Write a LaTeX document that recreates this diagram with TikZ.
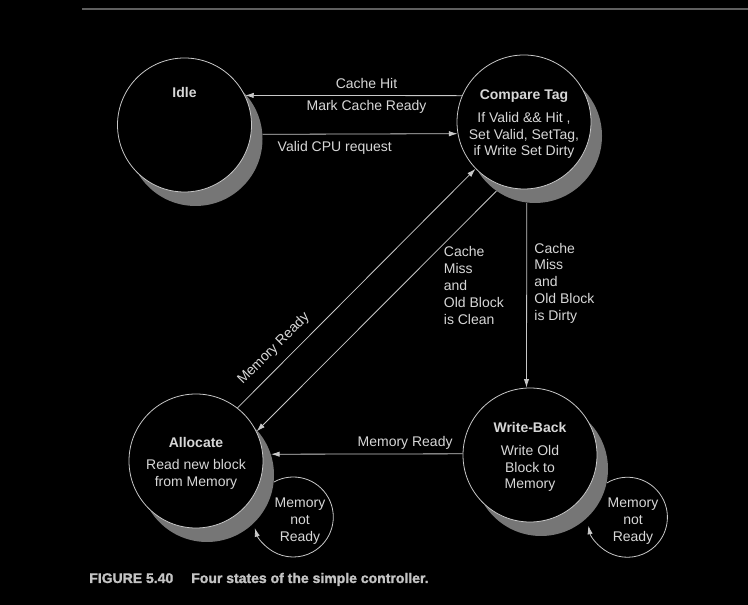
\documentclass[tikz,border=0pt]{standalone}
\usepackage{fontspec}
\setmainfont{Liberation Sans}
\newfontfamily\capfont[FakeBold=1.5]{Liberation Sans Bold}
\usepackage{tikz}
\usetikzlibrary{arrows.meta,positioning}
\definecolor{lineGray}{RGB}{200,200,200}
\definecolor{textGray}{RGB}{215,215,215}
\definecolor{shadowGray}{RGB}{118,118,118}
\definecolor{ruleGray}{RGB}{95,95,95}
\newcommand{\diagfont}{\fontsize{10.5}{12.6}\selectfont}
\newcommand{\titlestrut}{\rule{0pt}{10.6pt}}

\begin{document}
\begin{tikzpicture}[x=0.75pt, y=0.75pt,
      state/.style  = {circle, minimum size=100.5pt, inner sep=0pt,
          draw=lineGray, line width=0.6pt, fill=black, align=center},
      shade/.style  = {circle, minimum size=100.5pt, inner sep=0pt, fill=shadowGray},
      trans/.style  = {-{Latex[length=6.5pt,width=4pt]}, draw=lineGray, line width=0.6pt},
      cond/.style   = {align=left, inner sep=0pt},
      loopTxt/.style= {align=center, inner sep=0pt},
      caption/.style= {inner sep=0pt, font=\diagfont\capfont, text=lineGray!95!gray},
      every node/.style={font=\diagfont, text=textGray},
    ]
    \fill[black] (0,0) rectangle (748,605);
    \useasboundingbox (0,0) rectangle (748,605);
    \draw[ruleGray, line width=1.5pt] (82,596) -- (748,596);

    % ── Sombras ──────────────────────────────────────────────────
    \node[shade] (idleSh)  at (195.5,466) {};
    \node[shade] (cmpSh)   at (535,469)   {};
    \node[shade] (allocSh) at (207,130)   {};
    \node[shade] (wbSh)    at (541,136)   {};

    % ── Estados ──────────────────────────────────────────────────
    \node[state] (idle)  at (184.5,480) {};
    \node[font=\diagfont\bfseries] (idleT) at (184.5,512) {Idle};
    \node[state] (cmp)   at (524,483) {\titlestrut\textbf{Compare Tag}\\[4.5pt]If Valid \&\& Hit ,\\Set Valid, SetTag,\\if Write Set Dirty};
    \node[state] (alloc) at (196,144) {\titlestrut\textbf{Allocate}\\[4pt]Read new block\\from Memory};
    \node[state] (wb)    at (530,150) {\titlestrut\textbf{Write-Back}\\[4.5pt]Write Old\\Block to\\Memory};

    % ── Transiciones ─────────────────────────────────────────────
    \draw[trans] (cmp.157) -- node[pos=0.44,above=1.5pt]{Cache Hit}
                               node[pos=0.44,below]{Mark Cache Ready} (idle.26);
    \draw[trans] (idleSh.4) -- node[pos=0.37,below=1.5pt]{Valid CPU request} (cmp.190);
    \draw[trans] (alloc.52) -- node[pos=0.2,above=3.5pt,sloped]{Memory Ready} (cmp.224);
    \draw[trans] (cmpSh.235) -- node[pos=0.393,right=31pt,cond]{Cache\\Miss\\and\\Old Block\\is Clean} (alloc.26);
    \draw[trans] (cmpSh.263) -- node[pos=0.434,right=5.5pt,cond]{Cache\\Miss\\and\\Old Block\\is Dirty} (wb.93);
    \draw[trans] (wb.179) -- node[pos=0.3,above]{Memory Ready} (allocSh.18);

    % ── Lazos ────────────────────────────────────────────────────
    \draw[trans] (allocSh.-6) arc[start angle=119, end angle=-164, radius=40];
    \node[loopTxt] (allocNR) at (300,84) {Memory\\not\\Ready};
    \draw[trans] (wbSh.-12) arc[start angle=121, end angle=-168, radius=40];
    \node[loopTxt] (wbNR) at (633,84) {Memory\\not\\Ready};

    % ── Leyenda ──────────────────────────────────────────────────
    \node[caption, anchor=base west] (figNum)   at (89,22)  {FIGURE 5.40};
    \node[caption, anchor=base west] (figTitle) at (191,22) {Four states of the simple controller.};

  \end{tikzpicture}
\end{document}
